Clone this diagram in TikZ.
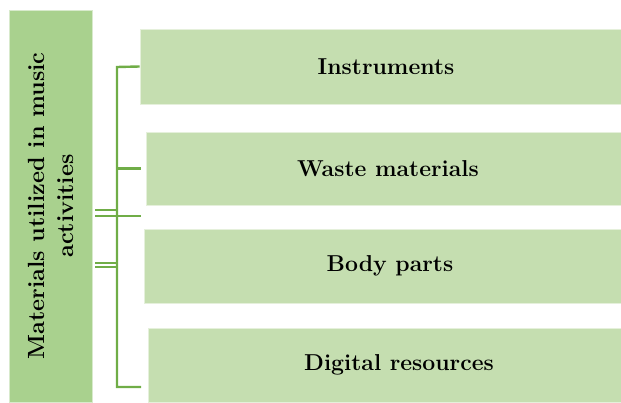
\documentclass[tikz,border=0pt]{standalone}
\usetikzlibrary{positioning}
\definecolor{leftgreen}{HTML}{A9D18E}
\definecolor{boxgreen}{HTML}{C5DEB0}
\definecolor{linegreen}{HTML}{70AD47}
\tikzset{
	itembox/.style={fill=boxgreen, draw=white!55!boxgreen, line width=0.6pt, inner sep=0pt,
		font=\fontsize{23}{27}\selectfont\bfseries},
	branch/.style={draw=linegreen, line width=2.4pt},
	twinline/.style={draw=linegreen, line width=1.6pt},
}
\begin{document}
\begin{tikzpicture}[x=1pt, y=-1pt]
	\useasboundingbox (0,0) rectangle (621,403);
	\node [fill=leftgreen, draw=white!55!leftgreen, line width=0.6pt, rotate=90,
		minimum width=392pt, minimum height=83pt, inner sep=0pt, align=center,
		font=\fontsize{23.4}{29}\selectfont\bfseries] (materials) at (50.5,206)
		{Materials utilized in music\\activities};
	\node [itembox, minimum width=492pt, minimum height=75pt] (instruments) at (386,66.5) {Instruments};
	\node [itembox, minimum width=484pt, minimum height=73pt] (waste) at (388,168.5) {Waste materials};
	\node [itembox, minimum width=492pt, minimum height=74pt] (body) at (390,266) {Body parts};
	\node [itembox, minimum width=502pt, minimum height=74pt] (digital) at (399,365) {Digital resources};
	\coordinate (top) at (117,67);
	\coordinate (bottom) at (117,387);
	% bracket
	\draw [branch] (instruments.west) -- (top) -- (bottom) -- ++(24,0);
	\draw [branch] (top |- waste) -- ++(24,0);
	% double lines from the left box
	\coordinate (twinA) at (95,210);
	\coordinate (twinB) at (95,216);
	\coordinate (twinC) at (95,263);
	\coordinate (twinD) at (95,267);
	\draw [twinline] (twinA) -- (twinA -| top);
	\draw [twinline] (twinB) -- ++(46,0);
	\draw [twinline] (twinC) -- (twinC -| top);
	\draw [twinline] (twinD) -- (twinD -| top);
\end{tikzpicture}
\end{document}
